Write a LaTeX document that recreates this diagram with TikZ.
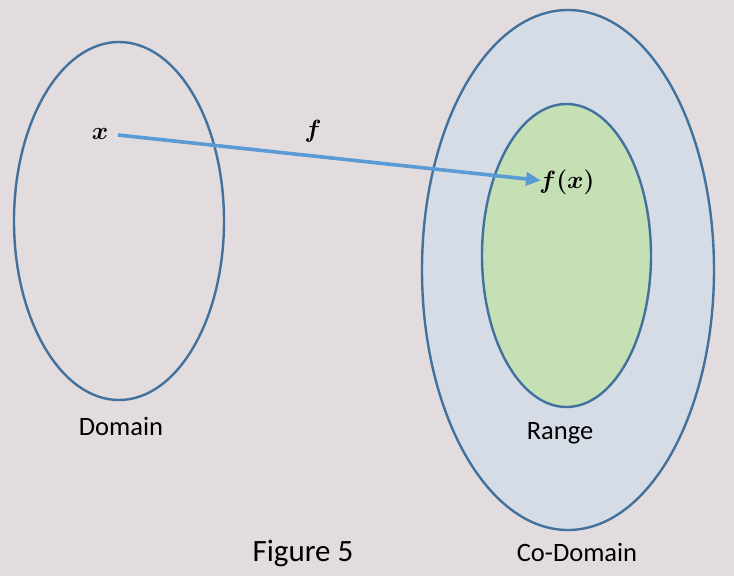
\documentclass[tikz,border=0pt]{standalone}
\usepackage{fontspec}
\setmainfont{Carlito}
\usepackage{amsmath}
\usepackage{bm}
\usetikzlibrary{arrows.meta}
\definecolor{bgc}{HTML}{E2DCDE}
\definecolor{edge}{HTML}{41719C}
\definecolor{arr}{HTML}{5B9BD5}
\definecolor{codo}{HTML}{D6DCE5}
\definecolor{rng}{HTML}{C5E0B4}
\begin{document}
\begin{tikzpicture}[x=1pt,y=-1pt,
  setshape/.style={draw=edge,line width=2.4pt},
  lbl/.style={font=\fontsize{26.5}{30}\selectfont,inner sep=0pt},
  mth/.style={font=\fontsize{25}{28}\selectfont,inner sep=0pt},
  maparrow/.style={draw=arr,line width=3.6pt,-{Triangle[length=15pt,width=13pt]}}]
\fill[bgc] (0,0) rectangle (734,576);
\useasboundingbox (0,0) rectangle (734,576);
% sets
\draw[setshape] (119,221) ellipse [x radius=105, y radius=179];
\draw[setshape,fill=codo] (568,270) ellipse [x radius=146, y radius=260];
\draw[setshape,fill=rng] (566.5,255.5) ellipse [x radius=84.5, y radius=151.5];
% points
\coordinate (src) at (118,135);
\coordinate (dst) at (541,180.5);
\node[mth] (xl) at (100,134) {$\bm{x}$};
\node[mth] (fl) at (313,131) {$\bm{f}$};
\node[mth] (fxl) at (567,182) {$\bm{f(x)}$};
\draw[maparrow] (src) -- (dst);
% labels
\node[lbl] (dom) at (121,426) {Domain};
\node[lbl] (ran) at (560,433) {Range};
\node[lbl] (cod) at (577,552) {Co-Domain};
\node[lbl,font=\fontsize{31}{34}\selectfont] (fig) at (303,553) {Figure 5};
\end{tikzpicture}
\end{document}
